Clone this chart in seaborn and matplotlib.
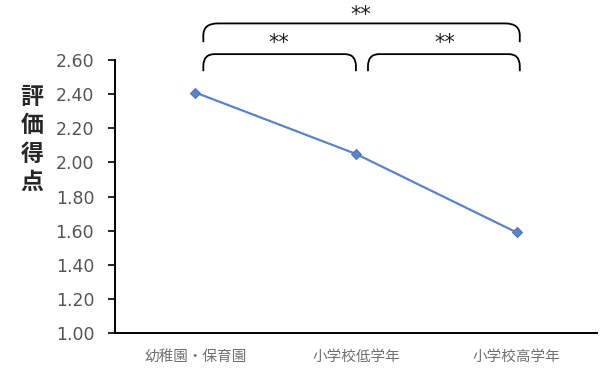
import numpy as np
import pandas as pd
import matplotlib.pyplot as plt
import seaborn as sns
from matplotlib.path import Path
from matplotlib.patches import PathPatch

# データ
stages = ["幼稚園・保育園", "小学校低学年", "小学校高学年"]
scores = [2.41, 2.05, 1.59]
yticks = [1.00, 1.20, 1.40, 1.60, 1.80, 2.00, 2.20, 2.40, 2.60]

df = pd.DataFrame({"stage": stages, "score": scores, "pos": range(len(stages))})

sns.set_style("white")
plt.rcParams['font.family'] = ['Noto Sans CJK JP', 'DejaVu Sans']

fig = plt.figure(figsize=(6.1, 3.78), dpi=100)
ax = fig.add_axes([0.1885, 0.119, 0.79, 0.722])

sns.lineplot(data=df, x="pos", y="score", marker="D", markersize=5,
             color="#5b84c4", linewidth=1.6, markeredgecolor="#4a73b3", ax=ax)

ax.set_xlim(-0.5, 2.5)
ax.set_ylim(1.0, 2.6)
ax.set_yticks(yticks)
ax.set_yticklabels([f"{v:.2f}" for v in yticks], fontfamily="DejaVu Sans",
                   fontsize=12.5, color="#555555")
ax.set_xticks(range(len(stages)))
ax.set_xticklabels(stages, fontsize=10.5, color="#707070")
ax.set_xticks([-0.5, 0.5, 1.5, 2.5], minor=True)
ax.tick_params(axis="x", which="major", length=0, pad=12)
ax.tick_params(axis="x", which="minor", length=4, width=1.2, color="black", direction="out")
ax.tick_params(axis="y", length=5, width=1.2, color="black", direction="out",
               left=True, pad=10)
ax.set_xlabel("")
ax.set_ylabel("")
for s in ["top", "right"]:
    ax.spines[s].set_visible(False)
for s in ["left", "bottom"]:
    ax.spines[s].set_color("black")
    ax.spines[s].set_linewidth(1.4)
ax.grid(False)

fig.text(0.052, 0.63, "評\n価\n得\n点", fontsize=16.5, fontweight="bold",
         ha="center", va="center", linespacing=1.3)


def bracket(x0, x1, yb, yt, rx=0.07, ry=0.07):
    verts = [(x0, yb), (x0, yt - ry), (x0, yt), (x0 + rx, yt),
             (x1 - rx, yt), (x1, yt), (x1, yt - ry), (x1, yb)]
    codes = [Path.MOVETO, Path.LINETO, Path.CURVE3, Path.CURVE3,
             Path.LINETO, Path.CURVE3, Path.CURVE3, Path.LINETO]
    ax.add_patch(PathPatch(Path(verts, codes), fill=False, lw=1.3,
                           color="black", clip_on=False))


bracket(0.05, 1.0, 2.535, 2.635)
bracket(1.075, 2.02, 2.535, 2.635)
bracket(0.05, 2.02, 2.705, 2.815, rx=0.09)

for x, y in [(0.52, 2.64), (1.55, 2.64), (1.03, 2.805)]:
    ax.text(x, y, "**", fontsize=15, ha="center", va="bottom",
            fontfamily="DejaVu Sans", color="#222222", clip_on=False)

fig.savefig("out.png", dpi=100)
